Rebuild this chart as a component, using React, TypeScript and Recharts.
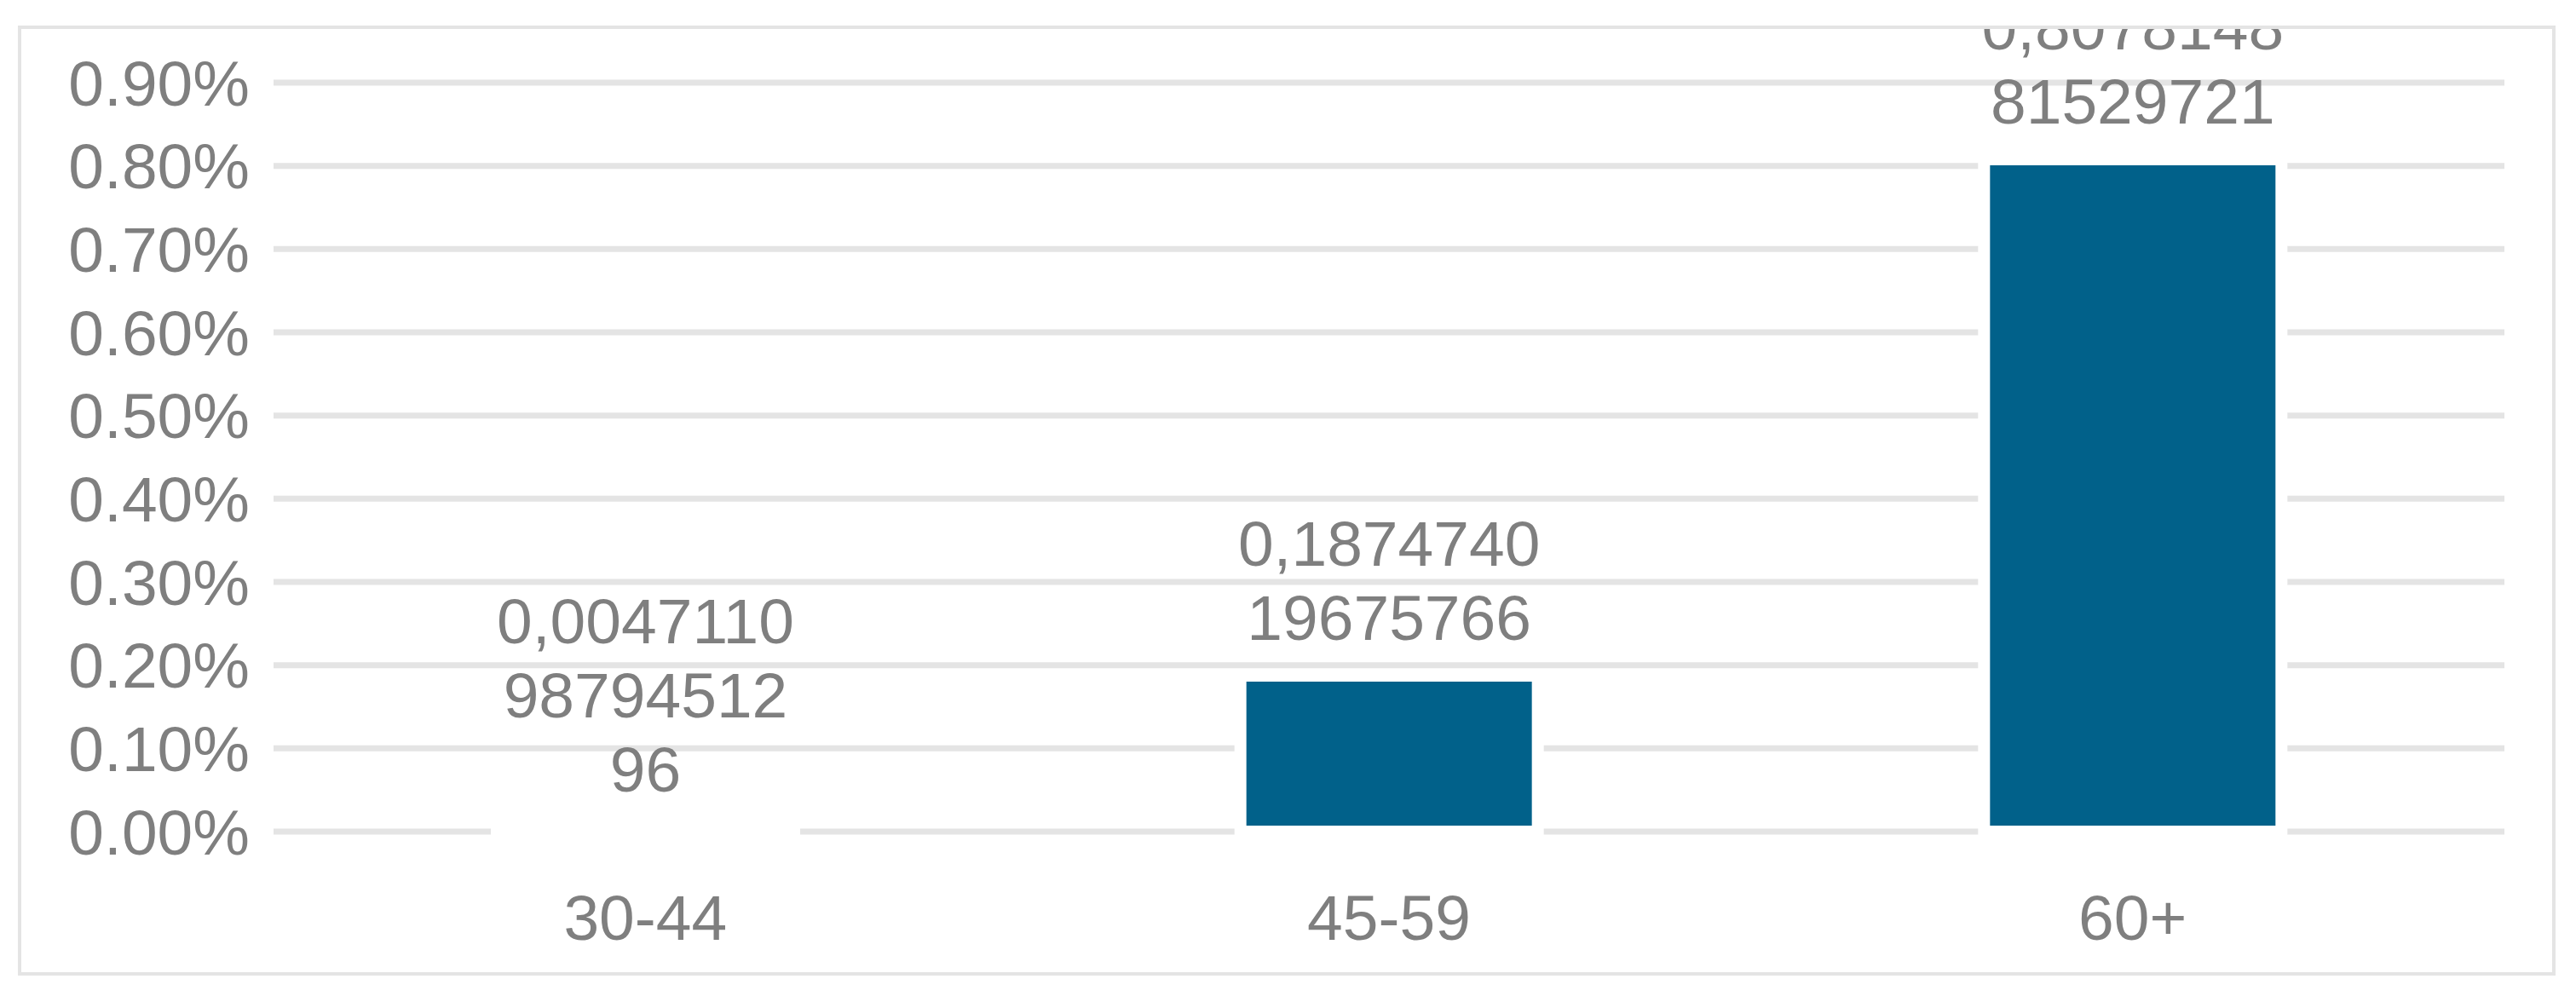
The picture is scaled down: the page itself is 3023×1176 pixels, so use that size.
import { BarChart, Bar, XAxis, YAxis, CartesianGrid, LabelList } from 'recharts';

const AGE_GROUPS = ['30-44', '45-59', '60+'];
// share in percent
const SHARES = [0.00471109879451296, 0.187474019675766, 0.807814881529721];
const Y_TICKS = [0, 0.1, 0.2, 0.3, 0.4, 0.5, 0.6, 0.7, 0.8, 0.9];

const data = AGE_GROUPS.map((group, i) => ({ group, share: SHARES[i] }));

const FONT = '"Liberation Sans", Arial, sans-serif';
const GRAY = '#7f7f7f';

// Excel-style wrapped label: decimal comma, 9 chars then 8 per line
function wrapLabel(v: number): string[] {
  const s = String(v).replace('.', ',');
  const lines = [s.slice(0, 9)];
  for (let i = 9; i < s.length; i += 8) lines.push(s.slice(i, i + 8));
  return lines;
}

const ValueLabel = (props: any) => {
  const vb = props.viewBox || {};
  const x = Number(props.x ?? vb.x);
  const y = Number(props.y ?? vb.y);
  const width = Number(props.width ?? vb.width);
  const lines = wrapLabel(Number(props.value));
  const cx = x + width / 2;
  const lastBase = y - 42;
  return (
    <text textAnchor="middle" fill={GRAY} fontSize={75} fontFamily={FONT}>
      {lines.map((ln, i) => (
        <tspan key={i} x={cx} y={lastBase - (lines.length - 1 - i) * 87}>
          {ln}
        </tspan>
      ))}
    </text>
  );
};

export default function App() {
  return (
    <div style={{ position: 'absolute', left: 0, top: 0, width: 3023, height: 1176, background: '#fff' }}>
      <div
        style={{
          position: 'absolute',
          left: 21,
          top: 30,
          width: 2978,
          height: 1115,
          boxSizing: 'border-box',
          border: '4px solid #e4e4e4',
          overflow: 'hidden',
        }}
      >
        <BarChart
          width={2970}
          height={1107}
          data={data}
          margin={{ top: 63, right: 56, bottom: 0, left: 0 }}
        >
          <CartesianGrid vertical={false} stroke="#e4e4e4" strokeWidth={7} />
          <XAxis
            dataKey="group"
            axisLine={false}
            tickLine={false}
            tickSize={0}
            tickMargin={74}
            height={165}
            interval={0}
            tick={{ fill: GRAY, fontSize: 75, fontFamily: FONT }}
          />
          <YAxis
            width={296}
            domain={[0, 0.9]}
            ticks={Y_TICKS}
            axisLine={false}
            tickLine={false}
            tickSize={0}
            tickMargin={28}
            tickFormatter={(v: number) => `${v.toFixed(2)}%`}
            tick={{ fill: GRAY, fontSize: 75, fontFamily: FONT }}
          />
          <Bar
            dataKey="share"
            fill="#01618a"
            stroke="#ffffff"
            strokeWidth={14}
            barSize={349}
            isAnimationActive={false}
          >
            <LabelList dataKey="share" content={ValueLabel} />
          </Bar>
        </BarChart>
      </div>
    </div>
  );
}
